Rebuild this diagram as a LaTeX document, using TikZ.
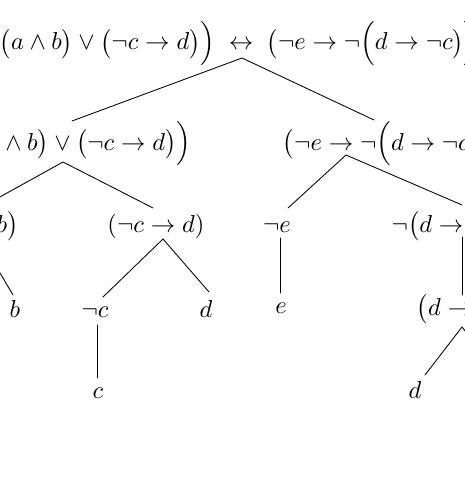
\documentclass[tikz,border=0pt]{standalone}
\usepackage{graphicx}
\newcommand{\bigtxt}[1]{\scalebox{2.45}{#1}}
% the zero-width boxes are Ord atoms, so TeX puts the usual spacing round the connective
\newcommand{\connode}[3]{\bigtxt{$\llap{$#1$}#2\rlap{$#3$}$}}
\begin{document}
\begin{tikzpicture}[x=1pt,y=-1pt,
  every node/.style={inner sep=0pt,anchor=base},
  branch/.style={line width=0.85pt,line cap=round}]
\useasboundingbox (0,0) rectangle (465,500);
\clip (0,0) rectangle (465,500);
% formula nodes
\node (root) at (241,50) {\connode{\Big(\big(a\land b\big)\lor\big(\lnot c\to d\big)\Big)\;}{\leftrightarrow}{\;\big(\lnot e\to\lnot\Big(d\to\lnot c\big)\Big)}};
\node (L) at (62.5,150) {\connode{\Big(\big(a\land b\big)}{\lor}{\big(\lnot c\to d\big)\Big)}};
\node (R) at (341,150) {\connode{\big(\lnot e}{\to}{\lnot\Big(d\to\lnot c\Big)\big)}};
\node (LL) at (-17,232) {\connode{\big(a}{\land}{b\big)}};
\node (LR) at (163,232) {\connode{(\lnot c}{\to}{d)}};
\node (RL) at (277,232) {\bigtxt{$\lnot e$}};
\node[anchor=base west] (RR) at (391.5,232) {\bigtxt{$\lnot\big(d\to\lnot c\big)$}};
\node (LLb) at (15,317) {\bigtxt{$b$}};
\node (LRl) at (95,317) {\bigtxt{$\lnot c$}};
\node (LRr) at (206,317) {\bigtxt{$d$}};
\node (RLe) at (281,313) {\bigtxt{$e$}};
\node (RRc) at (460,315) {\connode{\big(d}{\to}{\lnot c\big)}};
\node (LRlc) at (98,398) {\bigtxt{$c$}};
\node (RRcd) at (415,398) {\bigtxt{$d$}};
% connector end points
\coordinate (rootA) at (242,58);
\coordinate (LT) at (72,121);
\coordinate (RT) at (374,120);
\coordinate (LA) at (63,162);
\coordinate (LLT) at (-20,208);
\coordinate (LRT) at (153,208);
\coordinate (RA) at (346,155);
\coordinate (RLT) at (288,208);
\coordinate (RRT) at (462,205);
\coordinate (LLA) at (-20,239);
\coordinate (LLbT) at (13,295);
\coordinate (LRA) at (163,239);
\coordinate (LRlT) at (103,297);
\coordinate (LRrT) at (209,292);
\coordinate (RLB) at (280,238);
\coordinate (RLeT) at (280,293);
\coordinate (RRB) at (462,237);
\coordinate (RRcT) at (462,295);
\coordinate (LRlB) at (97,325);
\coordinate (LRlcT) at (97,378);
\coordinate (RRcA) at (462,327);
\coordinate (RRcdT) at (425,375);
\coordinate (RRcR) at (500,375);
% connectors
\draw[branch] (LT) -- (rootA) -- (RT);
\draw[branch] (LLT) -- (LA) -- (LRT);
\draw[branch] (RLT) -- (RA) -- (RRT);
\draw[branch] (LLA) -- (LLbT);
\draw[branch] (LRlT) -- (LRA) -- (LRrT);
\draw[branch] (RLB) -- (RLeT);
\draw[branch] (RRB) -- (RRcT);
\draw[branch] (LRlB) -- (LRlcT);
\draw[branch] (RRcdT) -- (RRcA) -- (RRcR);
\end{tikzpicture}
\end{document}
